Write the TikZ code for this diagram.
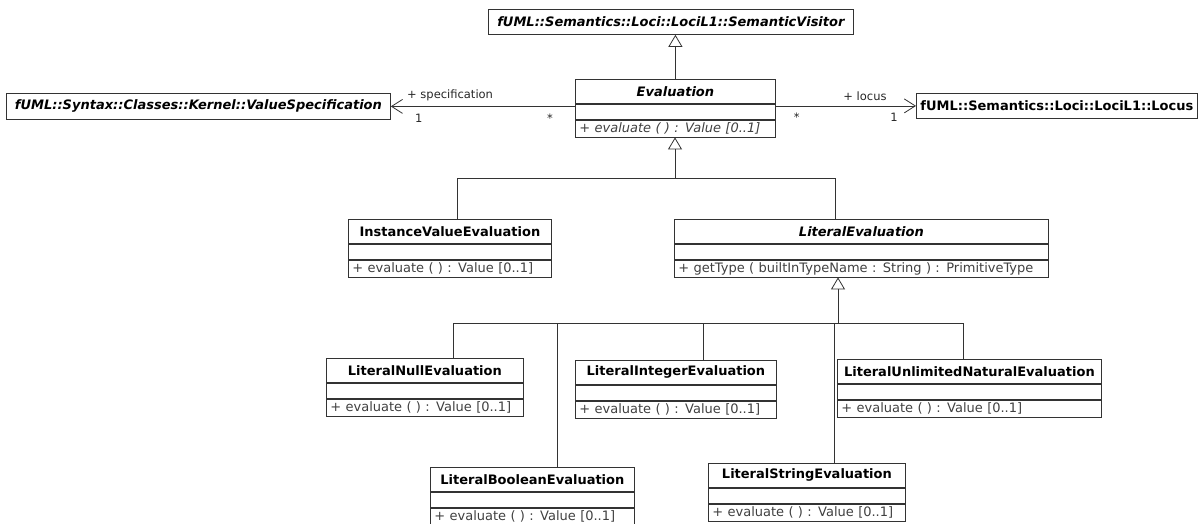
\documentclass[tikz,border=0pt]{standalone}
\usepackage{fontspec}
\setmainfont{DejaVu Sans}
\usetikzlibrary{positioning,arrows.meta}

% class with name, empty attribute and operation compartments
\newcommand{\umlclass}[6]{%
  \node[cname,minimum width=#4pt] (#1) at (#2,#3) {#5};
  \node[cattr,minimum width=#4pt,below=0pt of #1] (#1-attr) {};
  \node[cop,text width=\dimexpr#4pt-8pt\relax,below=0pt of #1-attr] (#1-op) {#6};
}

\begin{document}
\begin{tikzpicture}[x=1pt,y=-1pt,
  line width=0.8pt,
  cname/.style={draw=black!80,fill=white,anchor=north west,minimum height=24pt,inner sep=0pt,font=\fontsize{13}{15}\selectfont\bfseries},
  cattr/.style={draw=black!80,minimum height=15pt,inner sep=0pt},
  cop/.style={draw=black!80,minimum height=17pt,inner xsep=4pt,inner ysep=0pt,align=left,text=black!75,font=\fontsize{13}{15}\selectfont},
  single/.style={draw=black!80,fill=white,anchor=north west,minimum height=25pt,inner sep=0pt,font=\fontsize{13}{15}\selectfont\bfseries},
  lbl/.style={inner sep=1pt,text=black!85,font=\fontsize{11.5}{13}\selectfont},
  gen/.style={draw=black!80,-{Triangle[open,length=12pt,width=14pt]}},
  assoc/.style={draw=black!80,-{Straight Barb[length=11pt,width=14pt]}},
  tree/.style={draw=black!80}]
\useasboundingbox (0,0) rectangle (1201,523);
% Referenced classes
\node[single,minimum width=365pt] (visitor) at (488,9) {\itshape fUML::Semantics::Loci::LociL1::SemanticVisitor};
\node[single,minimum width=384pt,minimum height=26pt] (valspec) at (6,93) {\itshape fUML::Syntax::Classes::Kernel::ValueSpecification};
\node[single,minimum width=281pt] (locus) at (916,93) {fUML::Semantics::Loci::LociL1::Locus};
% Evaluation hierarchy
\umlclass{eval}{575}{79}{200}{\itshape Evaluation}{\itshape + evaluate ( ) : Value [0..1]}
\umlclass{ive}{348}{219}{203}{InstanceValueEvaluation}{+ evaluate ( ) : Value [0..1]}
\umlclass{lit}{674}{219}{374}{\itshape LiteralEvaluation}{+ getType ( builtInTypeName : String ) : PrimitiveType}
\umlclass{lnull}{326}{358}{197}{LiteralNullEvaluation}{+ evaluate ( ) : Value [0..1]}
\umlclass{lint}{575}{360}{201}{LiteralIntegerEvaluation}{+ evaluate ( ) : Value [0..1]}
\umlclass{lunl}{837}{359}{264}{LiteralUnlimitedNaturalEvaluation}{+ evaluate ( ) : Value [0..1]}
\umlclass{lbool}{430}{467}{204}{LiteralBooleanEvaluation}{+ evaluate ( ) : Value [0..1]}
\umlclass{lstr}{708}{463}{197}{LiteralStringEvaluation}{+ evaluate ( ) : Value [0..1]}
% Associations
\draw[assoc] (valspec.east -| eval.west) -- (valspec.east);
\draw[assoc] (locus.west -| eval.east) -- (locus.west);
\node[lbl,anchor=south west] (specrole) at ([xshift=15pt,yshift=4pt]valspec.east) {+ specification};
\node[lbl,anchor=north] (specone) at ([xshift=28pt,yshift=-6pt]valspec.east) {1};
\node[lbl,anchor=north] (specmany) at ([xshift=-25pt,yshift=-6pt]valspec.east -| eval.west) {*};
\node[lbl,anchor=south] (locusrole) at ([xshift=-51pt,yshift=4pt]locus.west) {+ locus};
\node[lbl,anchor=north] (locusone) at ([xshift=-22pt,yshift=-6pt]locus.west) {1};
\node[lbl,anchor=north] (locusmany) at ([xshift=21pt,yshift=-6pt]locus.west -| eval.east) {*};
% Generalizations
\draw[gen] (eval.north) -- (eval.north |- visitor.south);
\coordinate (fork1) at (675,178);
\draw[gen] (fork1) -- (fork1 |- eval-op.south);
\draw[tree] (fork1) -| ([xshift=109pt]ive.north west);
\draw[tree] (fork1) -| ([xshift=161pt]lit.north west);
\coordinate (fork2) at (838,323);
\draw[gen] (fork2) -- (fork2 |- lit-op.south);
\foreach \cls/\off in {lnull/127,lbool/127,lint/128,lstr/126,lunl/126}
  \draw[tree] (fork2) -| ([xshift=\off pt]\cls.north west);
\end{tikzpicture}
\end{document}
